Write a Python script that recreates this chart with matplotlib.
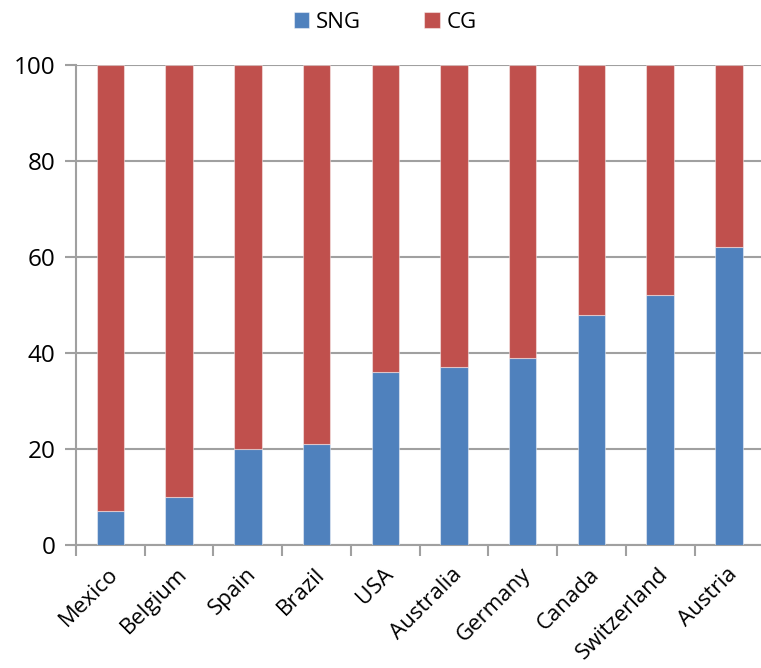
import matplotlib
matplotlib.use("Agg")
import matplotlib.pyplot as plt
import matplotlib.transforms as mtransforms
import numpy as np

countries = ["Mexico", "Belgium", "Spain", "Brazil", "USA", "Australia",
             "Germany", "Canada", "Switzerland", "Austria"]
sng = [7, 10, 20, 21, 36, 37, 39, 48, 52, 62]
cg = [100 - v for v in sng]
yticks = [0, 20, 40, 60, 80, 100]

plt.rcParams["font.family"] = ["Open Sans", "DejaVu Sans"]

BLUE = "#4F81BD"
RED = "#C0504D"
GRID = "#A0A0A0"

fig = plt.figure(figsize=(7.61, 6.68), dpi=100)
ax = fig.add_axes([0.0999, 0.1841, 0.9031, 0.7186])

x = np.arange(len(countries))
edge = (1, 1, 1, 0.45)
b1 = ax.bar(x, sng, width=0.4, color=BLUE, edgecolor=edge, linewidth=0.8, label="SNG", zorder=3)
b2 = ax.bar(x, cg, width=0.4, bottom=sng, color=RED, edgecolor=edge, linewidth=0.8, label="CG", zorder=3)

ax.set_xlim(-0.5, len(countries) - 0.5)
ax.set_ylim(0, 100)
ax.set_yticks(yticks)
ax.set_yticklabels([str(t) for t in yticks], fontsize=17.5)
ax.yaxis.grid(True, color=GRID, linewidth=1.5, zorder=0)
ax.set_axisbelow(True)

# category labels at bar centres, tick marks at category boundaries
ax.set_xticks(x)
ax.set_xticklabels(countries, fontsize=16, rotation=45, ha="right", va="center",
                   rotation_mode="anchor")
ax.set_xticks(np.arange(len(countries) + 1) - 0.5, minor=True)
ax.tick_params(axis="x", which="major", length=0, pad=19)
ax.tick_params(axis="x", which="minor", length=8, width=1.5, color=GRID, direction="out")
ax.tick_params(axis="y", length=8, width=1.5, color=GRID, direction="out", pad=7)
offset = mtransforms.ScaledTranslation(5 / 100, 0, fig.dpi_scale_trans)
for lab in ax.get_xticklabels():
    lab.set_transform(lab.get_transform() + offset)

for side in ("top", "right"):
    ax.spines[side].set_visible(False)
for side in ("left", "bottom"):
    ax.spines[side].set_color(GRID)
    ax.spines[side].set_linewidth(1.5)

fig.legend(handles=[b1, b2], labels=["SNG", "CG"], loc="center",
           bbox_to_anchor=(0.506, 0.967), ncol=2, frameon=False, fontsize=16,
           handlelength=0.7, handleheight=0.7, handletextpad=0.3, columnspacing=2.85)

fig.savefig("out.png", dpi=100)
